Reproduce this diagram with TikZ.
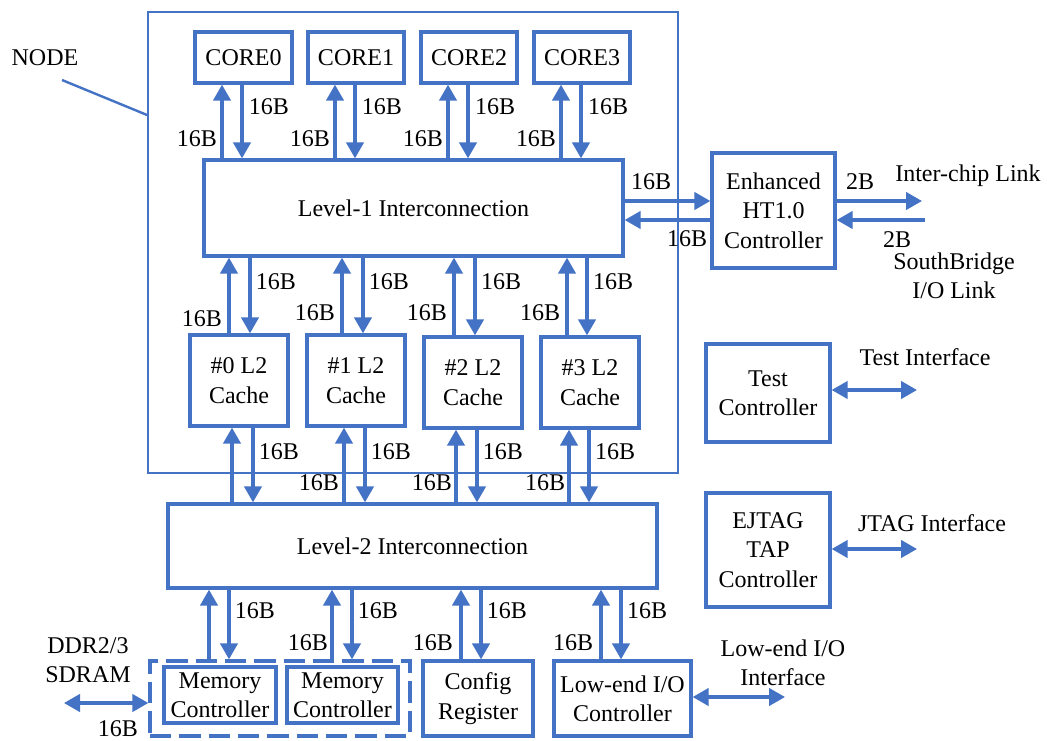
\documentclass[tikz,border=0pt]{standalone}
\usepackage{fontspec}
\setmainfont{Liberation Serif}
\usetikzlibrary{arrows.meta,calc}
\definecolor{myblue}{HTML}{4472C4}
\tikzset{
  box/.style={draw=myblue, line width=2.5pt, inner sep=0pt, align=center},
  thinbox/.style={draw=myblue, line width=1.4pt, inner sep=0pt},
  dashbox/.style={draw=myblue, line width=2.5pt, inner sep=0pt, dash pattern=on 16pt off 6pt},
  arr/.style={draw=myblue, line width=2.5pt, -{Triangle[length=12pt,width=13pt]}},
  darr/.style={draw=myblue, line width=2.5pt, {Triangle[length=12pt,width=13pt]}-{Triangle[length=12pt,width=13pt]}},
  lbl/.style={inner sep=0pt, align=center},
  conn/.style={draw=myblue, line width=1.8pt},
}
\newcommand\bx[7][box]{\node[#1, minimum width={(#5-#3)*0.75pt}, minimum height={(#6-#4)*0.75pt}] (#2) at ({(#3+#5)/2},{(#4+#6)/2}) {#7};}
\begin{document}
\begin{tikzpicture}[x=0.75pt,y=-0.75pt,font=\fontsize{18}{22}\selectfont]
\useasboundingbox (0,0) rectangle (1047,740);
% outer node box
\bx[thinbox]{nodebox}{148}{12}{678}{473}{}
\node[lbl] (nodelbl) at (45,58) {NODE};
\coordinate (nlstart) at (62,80);
\coordinate (nly) at (0,115);
\draw[conn] (nlstart) -- (nodebox.west |- nly);
% cores
\bx{c0}{195}{32}{292}{83}{CORE0}
\bx{c1}{308}{32}{404}{83}{CORE1}
\bx{c2}{421}{32}{517}{83}{CORE2}
\bx{c3}{534}{32}{630}{83}{CORE3}
% level-1
\bx{l1}{204}{160}{623}{256}{Level-1 Interconnection}
% L2 caches
\bx{ca0}{190}{335}{288}{426}{\#0 L2\\Cache}
\bx{ca1}{307}{335}{405}{426}{\#1 L2\\Cache}
\bx{ca2}{424}{337}{522}{428}{\#2 L2\\Cache}
\bx{ca3}{541}{337}{639}{428}{\#3 L2\\Cache}
% level-2
\bx{l2}{168}{504}{657}{588}{Level-2 Interconnection}
% bottom
\bx[dashbox]{memgrp}{150}{661}{410}{736}{}
\bx{m0}{164}{667}{276}{723}{Memory\\Controller}
\bx{m1}{287}{667}{398}{723}{Memory\\Controller}
\bx{cfg}{423}{661}{533}{736}{Config\\Register}
\bx{lio}{554}{661}{691}{736}{Low-end I/O\\Controller}
% right side
\bx{ht}{712}{153}{835}{268}{Enhanced\\HT1.0\\Controller}
\bx{tc}{706}{344}{830}{442}{Test\\Controller}
\bx{ej}{706}{493}{830}{607}{EJTAG\\TAP\\Controller}

% core <-> L1
\foreach \i/\u/\d in {0/222/242,1/335/355,2/448/468,3/561/581}{
  \coordinate (cu\i) at (\u,0);
  \coordinate (cd\i) at (\d,0);
  \draw[arr] (cu\i |- l1.north) -- (cu\i |- c\i.south);
  \draw[arr] (cd\i |- c\i.south) -- (cd\i |- l1.north);
  \node[lbl] at (\d+27,107) {16B};
  \node[lbl] at (\u-25,139) {16B};
}
% L1 <-> L2 caches
\foreach \i/\u/\d/\ly in {0/229/250/319,1/342/363/313,2/454/475/313,3/567/587/313}{
  \coordinate (lu\i) at (\u,0);
  \coordinate (ld\i) at (\d,0);
  \draw[arr] (lu\i |- ca\i.north) -- (lu\i |- l1.south);
  \draw[arr] (ld\i |- l1.south) -- (ld\i |- ca\i.north);
  \node[lbl] at (\d+26,282) {16B};
  \node[lbl] at (\u-27,\ly) {16B};
}
% L2 caches <-> L2 interconnect
\foreach \i/\u/\d in {0/232/253,1/344/365,2/456/477,3/569/589}{
  \coordinate (ku\i) at (\u,0);
  \coordinate (kd\i) at (\d,0);
  \draw[arr] (ku\i |- l2.north) -- (ku\i |- ca\i.south);
  \draw[arr] (kd\i |- ca\i.south) -- (kd\i |- l2.north);
  \node[lbl] at (\d+26,452) {16B};
}
\foreach \x in {319,432,545}{\node[lbl] at (\x,483) {16B};}
% L2 interconnect <-> bottom
\foreach \n/\t/\u/\d in {0/memgrp/209/229,1/memgrp/332/352,2/cfg/461/481,3/lio/601/621}{
  \coordinate (bu\n) at (\u,0);
  \coordinate (bd\n) at (\d,0);
  \draw[arr] (bu\n |- \t.north) -- (bu\n |- l2.south);
  \draw[arr] (bd\n |- l2.south) -- (bd\n |- \t.north);
  \node[lbl] at (\d+26,611) {16B};
}
\foreach \x in {308,433,573}{\node[lbl] at (\x,643) {16B};}
% DDR
\node[lbl] (ddr) at (88,660) {DDR2/3\\SDRAM};
\coordinate (ddrend) at (64,703);
\draw[darr] (ddrend) -- (memgrp.west |- ddrend);
\node[lbl] at (118,729) {16B};
% low-end IO interface
\node[lbl] (lioif) at (783,663) {Low-end I/O\\Interface};
\coordinate (lioend) at (785,697);
\draw[darr] (lio.east |- lioend) -- (lioend);
% HT links
\coordinate (hty1) at (0,201);
\coordinate (hty2) at (0,220);
\draw[arr] (l1.east |- hty1) -- (ht.west |- hty1);
\draw[arr] (ht.west |- hty2) -- (l1.east |- hty2);
\node[lbl] at (651,182) {16B};
\node[lbl] at (687,239) {16B};
\coordinate (icl) at (922,201);
\coordinate (sbl) at (925,220);
\draw[arr] (ht.east |- icl) -- (icl);
\draw[arr] (sbl) -- (ht.east |- sbl);
\node[lbl] at (860,182) {2B};
\node[lbl] at (897,240) {2B};
\node[lbl] (iclbl) at (968,176) {Inter-chip Link};
\node[lbl] (sblbl) at (954,276) {SouthBridge\\I/O Link};
% test and jtag
\coordinate (tcend) at (917,390);
\draw[darr] (tc.east |- tcend) -- (tcend);
\node[lbl] (tcif) at (925,357) {Test Interface};
\coordinate (ejend) at (917,549);
\draw[darr] (ej.east |- ejend) -- (ejend);
\node[lbl] (ejif) at (932,523) {JTAG Interface};
\end{tikzpicture}
\end{document}
